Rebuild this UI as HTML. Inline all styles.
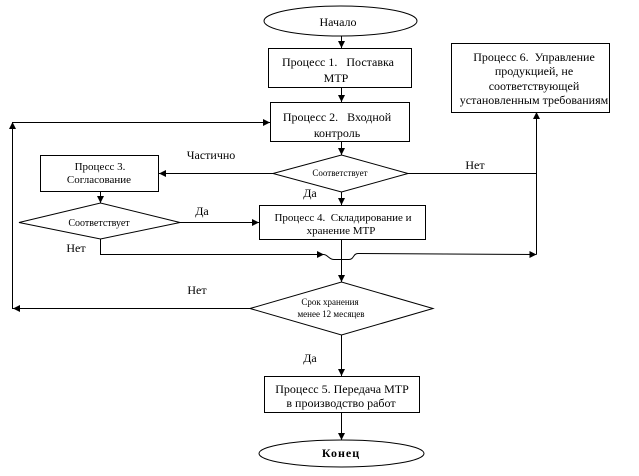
<!DOCTYPE html>
<html>
<head>
<meta charset="utf-8">
<style>
html,body{margin:0;padding:0;background:#fff;}
svg{display:block;font-family:"Liberation Serif","Times New Roman",serif;}
svg text{font-family:"Liberation Serif","Times New Roman",serif;fill:#000;}
</style>
</head>
<body>
<svg width="639" height="476" viewBox="0 0 639 476" xmlns="http://www.w3.org/2000/svg" font-family="Liberation Serif, serif">
<g fill="none" stroke="#000" stroke-width="1">
  <ellipse cx="340.5" cy="21" rx="76.5" ry="15"/>
  <rect x="268.5" y="48.5" width="143" height="39"/>
  <rect x="270.5" y="102.5" width="139" height="39"/>
  <rect x="451.5" y="43.5" width="158" height="69"/>
  <polygon points="273,173.5 341.5,155 408,173.5 341.5,192"/>
  <rect x="40.5" y="155.5" width="118" height="36"/>
  <polygon points="19,222.5 100.5,203 180,222.5 100.5,239"/>
  <rect x="259.5" y="205.5" width="166" height="34"/>
  <polygon points="250,308.5 341.5,282 433,308.5 341.5,335"/>
  <rect x="264.5" y="376.5" width="155" height="36"/>
  <ellipse cx="341.5" cy="453.5" rx="82.5" ry="13.5"/>

  <line x1="341.5" y1="36" x2="341.5" y2="48"/>
  <line x1="341.5" y1="88" x2="341.5" y2="102"/>
  <line x1="341.5" y1="142" x2="341.5" y2="155"/>
  <line x1="341.5" y1="192" x2="341.5" y2="205"/>
  <line x1="341.5" y1="240" x2="341.5" y2="282"/>
  <line x1="341.5" y1="335" x2="341.5" y2="376"/>
  <line x1="341.5" y1="413" x2="341.5" y2="440"/>

  <polyline points="250,308.5 12.5,308.5 12.5,122.5 270,122.5"/>
  <line x1="273" y1="173.5" x2="159" y2="173.5"/>
  <line x1="100.5" y1="192" x2="100.5" y2="203"/>
  <line x1="180" y1="222.5" x2="259" y2="222.5"/>
  <polyline points="100.5,239 100.5,254.5 324,254.5"/>
  <path d="M324,254.5 C328,255 329,259.5 334,259.5 L349,259.5 C354,259.5 353,253.5 358,253.5 L536.5,254.5"/>
  <polyline points="408,173.5 536.5,173.5"/>
  <line x1="536.5" y1="254.5" x2="536.5" y2="113"/>
</g>

<g fill="#000" stroke="none">
  <polygon points="341.5,48 338,41 345,41"/>
  <polygon points="341.5,102 338,95 345,95"/>
  <polygon points="341.5,155 338,148 345,148"/>
  <polygon points="341.5,205 338,198 345,198"/>
  <polygon points="341.5,282 338,275 345,275"/>
  <polygon points="341.5,376 338,369 345,369"/>
  <polygon points="341.5,440 338,433 345,433"/>
  <polygon points="100.5,203 97,196 104,196"/>
  <polygon points="12.5,122 9,129 16,129"/>
  <polygon points="536.5,112 533,119 540,119"/>
  <polygon points="270,122.5 263,119 263,126"/>
  <polygon points="259,222.5 252,219 252,226"/>
  <polygon points="324,254.5 317,251 317,258"/>
  <polygon points="536.5,254.5 529.5,251 529.5,258"/>
  <polygon points="159,173.5 166,170 166,177"/>
  <polygon points="13,308.5 20,305 20,312"/>
</g>

<g font-size="12" text-anchor="middle" font-family="Liberation Serif, serif">
  <text x="338" y="26">Начало</text>
  <text x="338" y="66" xml:space="preserve">Процесс 1.   Поставка</text>
  <text x="336" y="82">МТР</text>
  <text x="337" y="121" xml:space="preserve">Процесс 2.   Входной</text>
  <text x="337" y="137">контроль</text>
  <text x="534" y="61" xml:space="preserve">Процесс 6.  Управление</text>
  <text x="534" y="75">продукцией, не</text>
  <text x="534" y="90">соответствующей</text>
  <text x="534" y="104">установленным требованиям</text>
  <text x="342" y="393">Процесс 5. Передача МТР</text>
  <text x="341" y="407">в производство работ</text>
  <text x="341" y="457" font-weight="bold" letter-spacing="1">Конец</text>
  <text x="211" y="159">Частично</text>
  <text x="475" y="169">Нет</text>
  <text x="310" y="197">Да</text>
  <text x="202" y="215">Да</text>
  <text x="76" y="252">Нет</text>
  <text x="197" y="294">Нет</text>
  <text x="310" y="362">Да</text>
</g>
<g font-size="11" text-anchor="middle" font-family="Liberation Serif, serif">
  <text x="100" y="170">Процесс 3.</text>
  <text x="99" y="183">Согласование</text>
  <text x="343" y="221" xml:space="preserve">Процесс 4.  Складирование и</text>
  <text x="341" y="234">хранение МТР</text>
</g>
<g text-anchor="middle" font-family="Liberation Serif, serif">
  <text x="99" y="226" font-size="10">Соответствует</text>
  <text x="340" y="176" font-size="9">Соответствует</text>
  <text x="330" y="305" font-size="9">Срок хранения</text>
  <text x="331" y="317" font-size="9">менее 12 месяцев</text>
</g>
</svg>
</body>
</html>
